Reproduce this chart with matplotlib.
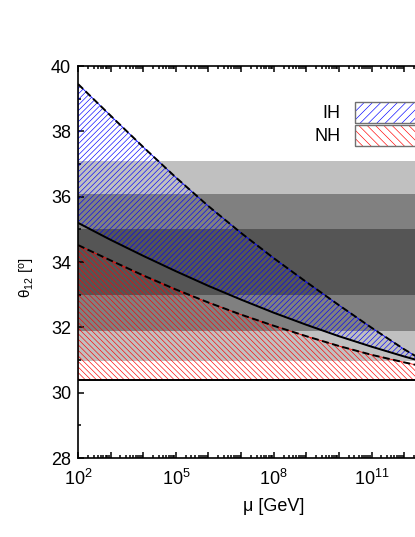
#! /usr/bin/env python3

import matplotlib
matplotlib.use('Agg')
import matplotlib.pyplot as plt
from matplotlib.patches import Patch
from matplotlib.legend_handler import HandlerTuple
from matplotlib.ticker import FixedLocator, LogLocator, NullFormatter


plt.rcParams['font.family'] = ['Liberation Sans', 'DejaVu Sans']
plt.rcParams['mathtext.fontset'] = 'custom'
plt.rcParams['mathtext.rm'] = 'Liberation Sans'
plt.rcParams['mathtext.it'] = 'Liberation Sans:italic'
plt.rcParams['hatch.linewidth'] = 0.45

# running scale mu [GeV]
mu = [1e2, 1e3, 1e4, 1e5, 1e6, 1e7, 1e8, 1e9, 1e10, 1e11, 1e12, 3.2e12, 1e13]

# theta_12 [deg] bounds
ih_upper = [39.45, 38.48, 37.52, 36.59, 35.71, 34.89, 34.12, 33.39, 32.68, 31.99, 31.33, 31.03, 30.73]
ih_lower = [35.2, 34.68, 34.19, 33.72, 33.27, 32.85, 32.45, 32.08, 31.73, 31.41, 31.11, 30.97, 30.84]
nh_upper = [34.52, 34.05, 33.59, 33.16, 32.76, 32.39, 32.05, 31.73, 31.43, 31.16, 30.93, 30.82, 30.72]
nh_lower = [30.4] * len(mu)

# experimental ranges (3 sigma, 2 sigma, 1 sigma)
band_lo = [30.97, 31.89, 33.0]
band_hi = [37.09, 36.09, 35.0]
band_col = ['#c0c0c0', '#808080', '#555555']

xtick_exp = list(range(2, 15))
xlabel_exp = [2, 5, 8, 11]
ytick_major = [28, 30, 32, 34, 36, 38, 40]
ytick_minor = [29, 31, 33, 35, 37, 39]

fig = plt.figure(figsize=(4.15, 5.37), dpi=100)
ax = fig.add_axes([0.188, 0.147, 0.943, 0.730])

for lo, hi, c in zip(band_lo, band_hi, band_col):
    ax.axhspan(lo, hi, color=c, lw=0, zorder=1)

# hatched regions
ax.fill_between(mu, ih_lower, ih_upper, facecolor='none', edgecolor='blue',
                hatch='//////', lw=0.6, zorder=2)
ax.fill_between(mu, nh_lower, nh_upper, facecolor='none', edgecolor='red',
                hatch='\\' * 6, lw=0.6, zorder=2)

# boundary lines
ax.plot(mu, ih_upper, color='black', lw=1.4, dashes=(3.6, 1.8), zorder=3)
ax.plot(mu, ih_lower, color='black', lw=1.4, zorder=3)
ax.plot(mu, nh_upper, color='black', lw=1.4, dashes=(3.6, 1.8), zorder=3)
ax.plot(mu, nh_lower, color='black', lw=1.4, zorder=3)

ax.set_xscale('log')
ax.set_xlim(1e2, 1e14)
ax.set_ylim(28, 40)

ax.xaxis.set_major_locator(FixedLocator([10.0 ** e for e in xtick_exp]))
ax.set_xticklabels([r'$\mathregular{10^{%d}}$' % e if e in xlabel_exp else ''
                    for e in xtick_exp])
ax.xaxis.set_minor_locator(LogLocator(base=10, subs=range(2, 10), numticks=30))
ax.xaxis.set_minor_formatter(NullFormatter())
ax.set_yticks(ytick_major)
ax.set_yticks(ytick_minor, minor=True)

ax.tick_params(which='both', direction='in', top=True, right=True,
               labelsize=13, width=1.1)
ax.tick_params(which='major', length=4)
ax.tick_params(which='minor', length=2.2)
ax.tick_params(axis='x', which='major', pad=8)
ax.tick_params(axis='y', which='major', pad=5)
for s in ax.spines.values():
    s.set_linewidth(1.2)

ax.set_xlabel(u'\u03bc [GeV]', fontsize=13, labelpad=6)
ax.set_ylabel(u'\u03b8$_{\\mathregular{12}}$ [$^{\\mathregular{o}}$]', fontsize=11)
ax.yaxis.set_label_coords(-0.105, 0.46)

# legend: label first, hatch box with grey frame after it
ih_handle = (Patch(facecolor='white', edgecolor='blue', hatch='////', lw=0),
             Patch(fill=False, edgecolor='#707070', lw=1.0))
nh_handle = (Patch(facecolor='white', edgecolor='red', hatch='\\\\\\\\', lw=0),
             Patch(fill=False, edgecolor='#707070', lw=1.0))
ax.legend([ih_handle, nh_handle], ['IH', 'NH'],
          handler_map={tuple: HandlerTuple(ndivide=1, pad=0)},
          loc='upper right', bbox_to_anchor=(0.98, 0.927), borderaxespad=0,
          frameon=False, markerfirst=False, fontsize=13,
          handlelength=5.5, handleheight=1.4, labelspacing=0.12,
          handletextpad=0.8)

fig.savefig('out.png', dpi=100)
